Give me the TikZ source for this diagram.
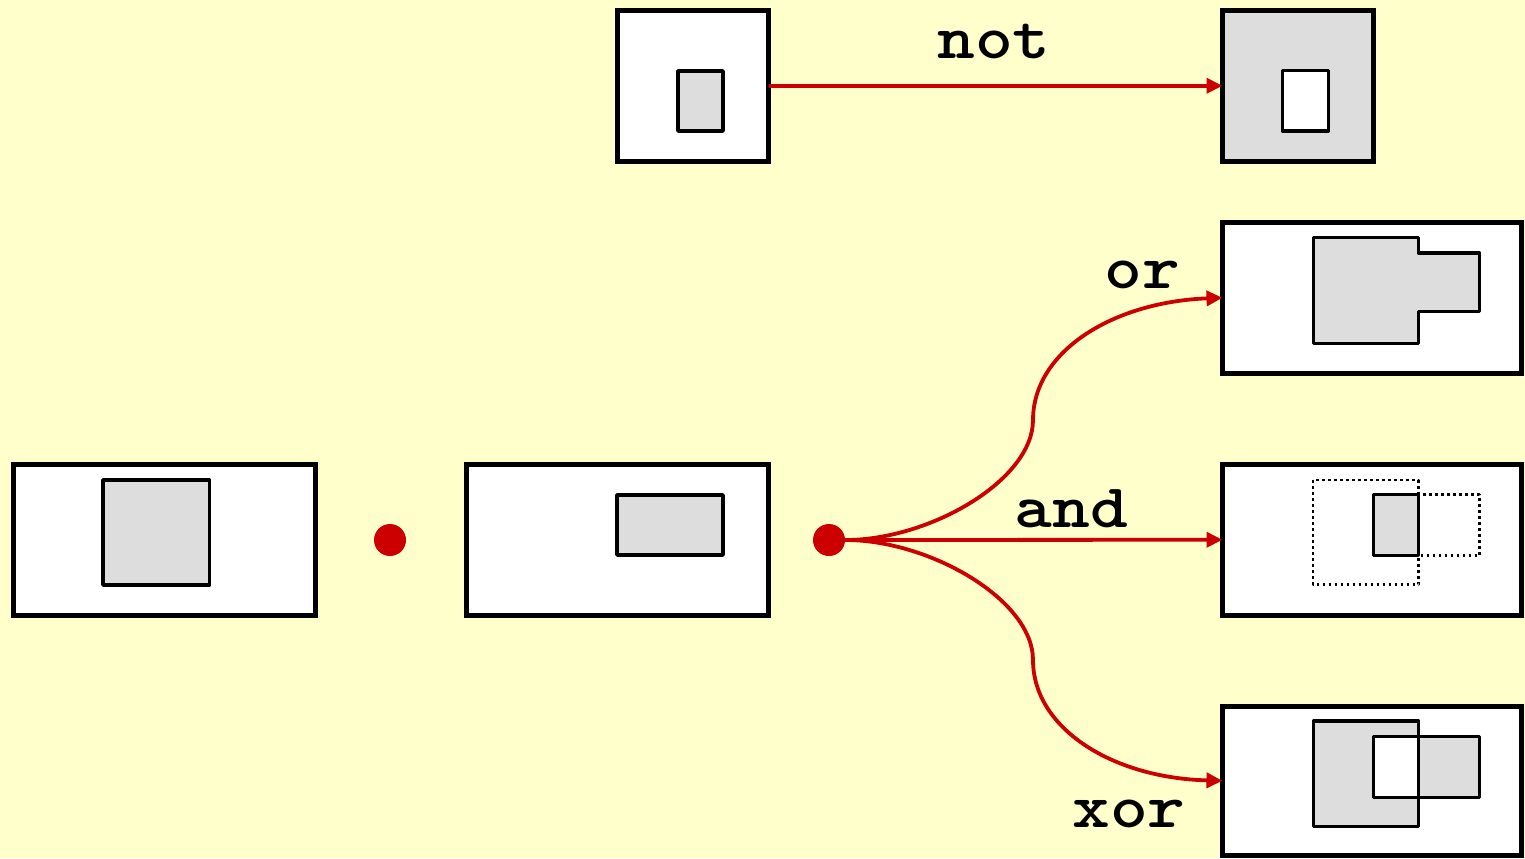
\documentclass[tikz,border=0pt]{standalone}
\usepackage{fontspec}
\usetikzlibrary{fit,arrows.meta}
\definecolor{bgyellow}{HTML}{FFFFCC}
\definecolor{boxgray}{HTML}{DDDDDD}
\definecolor{wire}{HTML}{CC0000}
\newcommand{\opword}[1]{\scalebox{1.16}[1]{#1}}
\tikzset{
  outerbox/.style={draw=black, line width=2.5pt, fill=white, inner sep=0pt, outer sep=0pt, rectangle},
  innerbox/.style={draw=black, line width=1.75pt, line join=round},
  dotbox/.style={draw=black, line width=1.4pt, dash pattern=on 1.4pt off 1.6pt, line join=round},
  link/.style={draw=wire, line width=1.9pt, -{Triangle[length=8pt,width=7.5pt]}},
  opname/.style={font=\fontsize{31pt}{31pt}\selectfont\ttfamily\bfseries, anchor=base, inner sep=0pt},
  reddot/.style={circle, fill=wire, minimum size=16pt, inner sep=0pt}
}
\begin{document}
\begin{tikzpicture}[x=0.5pt, y=-0.5pt]
\useasboundingbox (0,0) rectangle (1525,858);
\fill[bgyellow] (0,0) rectangle (1525,858);

% not source / target
\node[outerbox, fit={(617.5,10.5) (768.5,161)}] (notsrc) {};
\draw[innerbox, fill=boxgray] (678,71) rectangle (723,131);
\node[outerbox, fill=boxgray, fit={(1222.5,10.5) (1373.5,161)}] (nottgt) {};
\draw[innerbox, fill=white] (1282.5,70.5) rectangle (1328.5,131);
\draw[link] (notsrc.east) -- (nottgt.west);
\node[opname] (notlbl) at (994,58) {\opword{not}};

% operands
\node[outerbox, fit={(13,464.5) (315,615)}] (opa) {};
\draw[innerbox, fill=boxgray] (103,480) rectangle (209.5,585);
\node[reddot] (dota) at (390,540) {};
\node[outerbox, fit={(466,464.5) (768,615)}] (opb) {};
\draw[innerbox, fill=boxgray] (617,495) rectangle (723,555);
\node[reddot] (dotb) at (829,540) {};

% or result
\node[outerbox, fit={(1222.5,222.5) (1521.5,373)}] (orbox) {};
\draw[innerbox, fill=boxgray] (1313.5,237.5) -- (1418.5,237.5) -- (1418.5,253) -- (1479.5,253)
  -- (1479.5,311.5) -- (1418.5,311.5) -- (1418.5,343.5) -- (1313.5,343.5) -- cycle;

% and result
\node[outerbox, fit={(1222.5,464.5) (1521.5,615)}] (andbox) {};
\draw[dotbox] (1313,480) rectangle (1418.5,584.5);
\draw[dotbox] (1373.5,494.5) rectangle (1479.5,555.5);
\draw[innerbox, fill=boxgray] (1373.5,494.5) rectangle (1418.5,555.5);

% xor result
\node[outerbox, fit={(1222.5,706) (1521.5,855.5)}] (xorbox) {};
\fill[boxgray, even odd rule] (1313.5,721) rectangle (1418.5,826.5) (1373.5,736.5) rectangle (1479.5,797.5);
\draw[innerbox] (1313.5,721) rectangle (1418.5,826.5);
\draw[innerbox] (1373.5,736.5) rectangle (1479.5,797.5);

% connectors
\coordinate (upmid) at (1033,420);
\coordinate (lowmid) at (1033,660);
\draw[link] (dotb.east) .. controls (930,540) and (1033,480) .. (upmid)
  .. controls (1033,352) and (1112,302) .. (orbox.west);
\draw[link] (dotb.east) -- (andbox.west);
\draw[link] (dotb.east) .. controls (930,540) and (1033,600) .. (lowmid)
  .. controls (1033,728) and (1112,778) .. (xorbox.west);

\node[opname] (orlbl) at (1142,288) {\opword{or}};
\node[opname] (andlbl) at (1071.5,527) {\opword{and}};
\node[opname] (xorlbl) at (1129,827) {\opword{xor}};
\end{tikzpicture}
\end{document}
